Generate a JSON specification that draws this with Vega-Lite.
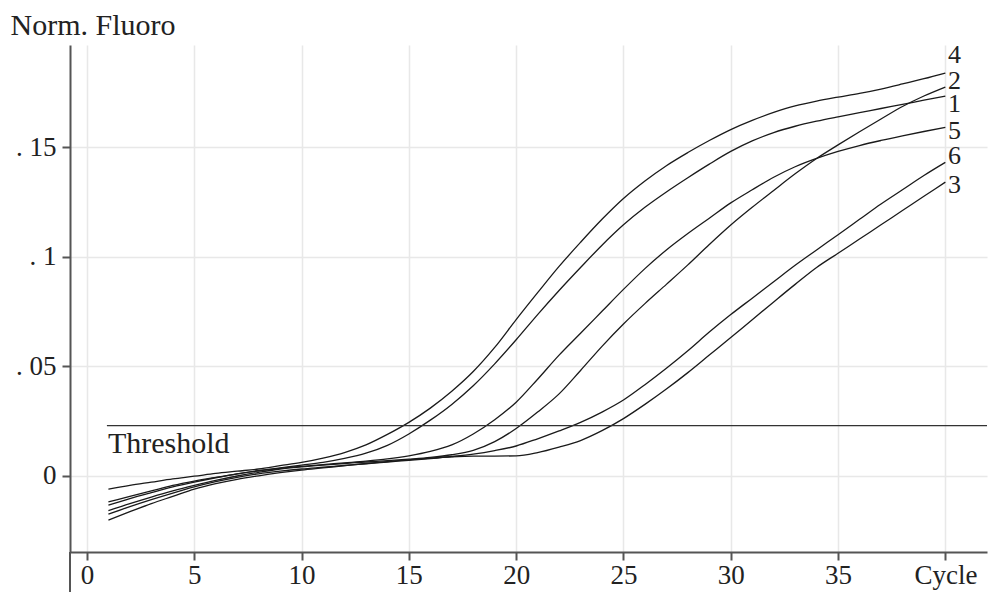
{
  "$schema": "https://vega.github.io/schema/vega-lite/v6.json",
  "width": 917,
  "height": 507,
  "autosize": "none",
  "padding": {"left": 70, "top": 45, "right": 5, "bottom": 40},
  "background": "white",
  "config": {
    "view": {"stroke": null},
    "font": "Liberation Serif",
    "axis": {
      "grid": true,
      "gridColor": "#e8e8e8",
      "gridWidth": 1.5,
      "domainColor": "#555555",
      "domainWidth": 2,
      "tickColor": "#555555",
      "tickWidth": 2,
      "tickSize": 8,
      "labelFont": "Liberation Serif",
      "labelFontSize": 27,
      "labelColor": "#222222",
      "titleFont": "Liberation Serif",
      "titleFontWeight": "normal",
      "titleColor": "#222222"
    }
  },
  "datasets": {
    "curves": [
      {"cycle":1,"curve":"4","value":-0.0062},{"cycle":2,"curve":"4","value":-0.0045},{"cycle":3,"curve":"4","value":-0.003},{"cycle":4,"curve":"4","value":-0.0015},{"cycle":5,"curve":"4","value":-0.0003},{"cycle":6,"curve":"4","value":0.001},{"cycle":7,"curve":"4","value":0.002},{"cycle":8,"curve":"4","value":0.003},{"cycle":9,"curve":"4","value":0.0045},{"cycle":10,"curve":"4","value":0.006},
      {"cycle":11,"curve":"4","value":0.008},{"cycle":12,"curve":"4","value":0.0105},{"cycle":13,"curve":"4","value":0.014},{"cycle":14,"curve":"4","value":0.0188},{"cycle":15,"curve":"4","value":0.0243},{"cycle":16,"curve":"4","value":0.0308},{"cycle":17,"curve":"4","value":0.0385},{"cycle":18,"curve":"4","value":0.0475},{"cycle":19,"curve":"4","value":0.0585},{"cycle":20,"curve":"4","value":0.0712},
      {"cycle":21,"curve":"4","value":0.0835},{"cycle":22,"curve":"4","value":0.0955},{"cycle":23,"curve":"4","value":0.1065},{"cycle":24,"curve":"4","value":0.117},{"cycle":25,"curve":"4","value":0.1265},{"cycle":26,"curve":"4","value":0.1345},{"cycle":27,"curve":"4","value":0.1415},{"cycle":28,"curve":"4","value":0.1475},{"cycle":29,"curve":"4","value":0.153},{"cycle":30,"curve":"4","value":0.158},
      {"cycle":31,"curve":"4","value":0.1622},{"cycle":32,"curve":"4","value":0.1658},{"cycle":33,"curve":"4","value":0.1688},{"cycle":34,"curve":"4","value":0.171},{"cycle":35,"curve":"4","value":0.1728},{"cycle":36,"curve":"4","value":0.1745},{"cycle":37,"curve":"4","value":0.1765},{"cycle":38,"curve":"4","value":0.1788},{"cycle":39,"curve":"4","value":0.1812},{"cycle":40,"curve":"4","value":0.1838},

      {"cycle":1,"curve":"1","value":-0.012},{"cycle":2,"curve":"1","value":-0.0095},{"cycle":3,"curve":"1","value":-0.007},{"cycle":4,"curve":"1","value":-0.0045},{"cycle":5,"curve":"1","value":-0.0025},{"cycle":6,"curve":"1","value":-0.0008},{"cycle":7,"curve":"1","value":0.0008},{"cycle":8,"curve":"1","value":0.0022},{"cycle":9,"curve":"1","value":0.0035},{"cycle":10,"curve":"1","value":0.0048},
      {"cycle":11,"curve":"1","value":0.006},{"cycle":12,"curve":"1","value":0.0078},{"cycle":13,"curve":"1","value":0.0102},{"cycle":14,"curve":"1","value":0.0138},{"cycle":15,"curve":"1","value":0.019},{"cycle":16,"curve":"1","value":0.0253},{"cycle":17,"curve":"1","value":0.0325},{"cycle":18,"curve":"1","value":0.041},{"cycle":19,"curve":"1","value":0.051},{"cycle":20,"curve":"1","value":0.062},
      {"cycle":21,"curve":"1","value":0.0735},{"cycle":22,"curve":"1","value":0.0845},{"cycle":23,"curve":"1","value":0.095},{"cycle":24,"curve":"1","value":0.1052},{"cycle":25,"curve":"1","value":0.1145},{"cycle":26,"curve":"1","value":0.1225},{"cycle":27,"curve":"1","value":0.1295},{"cycle":28,"curve":"1","value":0.136},{"cycle":29,"curve":"1","value":0.1422},{"cycle":30,"curve":"1","value":0.148},
      {"cycle":31,"curve":"1","value":0.1528},{"cycle":32,"curve":"1","value":0.1566},{"cycle":33,"curve":"1","value":0.1595},{"cycle":34,"curve":"1","value":0.1618},{"cycle":35,"curve":"1","value":0.1638},{"cycle":36,"curve":"1","value":0.1657},{"cycle":37,"curve":"1","value":0.1676},{"cycle":38,"curve":"1","value":0.1695},{"cycle":39,"curve":"1","value":0.1714},{"cycle":40,"curve":"1","value":0.1733},

      {"cycle":1,"curve":"5","value":-0.0135},{"cycle":2,"curve":"5","value":-0.0105},{"cycle":3,"curve":"5","value":-0.0078},{"cycle":4,"curve":"5","value":-0.0052},{"cycle":5,"curve":"5","value":-0.003},{"cycle":6,"curve":"5","value":-0.001},{"cycle":7,"curve":"5","value":0.0008},{"cycle":8,"curve":"5","value":0.0022},{"cycle":9,"curve":"5","value":0.0033},{"cycle":10,"curve":"5","value":0.0042},
      {"cycle":11,"curve":"5","value":0.005},{"cycle":12,"curve":"5","value":0.0058},{"cycle":13,"curve":"5","value":0.0066},{"cycle":14,"curve":"5","value":0.0076},{"cycle":15,"curve":"5","value":0.009},{"cycle":16,"curve":"5","value":0.011},{"cycle":17,"curve":"5","value":0.014},{"cycle":18,"curve":"5","value":0.019},{"cycle":19,"curve":"5","value":0.0255},{"cycle":20,"curve":"5","value":0.0335},
      {"cycle":21,"curve":"5","value":0.044},{"cycle":22,"curve":"5","value":0.055},{"cycle":23,"curve":"5","value":0.065},{"cycle":24,"curve":"5","value":0.075},{"cycle":25,"curve":"5","value":0.085},{"cycle":26,"curve":"5","value":0.0945},{"cycle":27,"curve":"5","value":0.103},{"cycle":28,"curve":"5","value":0.1105},{"cycle":29,"curve":"5","value":0.1175},{"cycle":30,"curve":"5","value":0.1245},
      {"cycle":31,"curve":"5","value":0.1305},{"cycle":32,"curve":"5","value":0.1362},{"cycle":33,"curve":"5","value":0.141},{"cycle":34,"curve":"5","value":0.1448},{"cycle":35,"curve":"5","value":0.148},{"cycle":36,"curve":"5","value":0.1507},{"cycle":37,"curve":"5","value":0.153},{"cycle":38,"curve":"5","value":0.1551},{"cycle":39,"curve":"5","value":0.1571},{"cycle":40,"curve":"5","value":0.159},

      {"cycle":1,"curve":"2","value":-0.016},{"cycle":2,"curve":"2","value":-0.0128},{"cycle":3,"curve":"2","value":-0.0098},{"cycle":4,"curve":"2","value":-0.007},{"cycle":5,"curve":"2","value":-0.0045},{"cycle":6,"curve":"2","value":-0.0022},{"cycle":7,"curve":"2","value":-0.0002},{"cycle":8,"curve":"2","value":0.0015},{"cycle":9,"curve":"2","value":0.003},{"cycle":10,"curve":"2","value":0.004},
      {"cycle":11,"curve":"2","value":0.0048},{"cycle":12,"curve":"2","value":0.0055},{"cycle":13,"curve":"2","value":0.0062},{"cycle":14,"curve":"2","value":0.0068},{"cycle":15,"curve":"2","value":0.0075},{"cycle":16,"curve":"2","value":0.0083},{"cycle":17,"curve":"2","value":0.0095},{"cycle":18,"curve":"2","value":0.0115},{"cycle":19,"curve":"2","value":0.0155},{"cycle":20,"curve":"2","value":0.0215},
      {"cycle":21,"curve":"2","value":0.029},{"cycle":22,"curve":"2","value":0.0373},{"cycle":23,"curve":"2","value":0.048},{"cycle":24,"curve":"2","value":0.059},{"cycle":25,"curve":"2","value":0.0692},{"cycle":26,"curve":"2","value":0.0785},{"cycle":27,"curve":"2","value":0.0873},{"cycle":28,"curve":"2","value":0.0962},{"cycle":29,"curve":"2","value":0.1055},{"cycle":30,"curve":"2","value":0.1144},
      {"cycle":31,"curve":"2","value":0.1225},{"cycle":32,"curve":"2","value":0.1302},{"cycle":33,"curve":"2","value":0.1378},{"cycle":34,"curve":"2","value":0.1448},{"cycle":35,"curve":"2","value":0.151},{"cycle":36,"curve":"2","value":0.157},{"cycle":37,"curve":"2","value":0.1628},{"cycle":38,"curve":"2","value":0.1685},{"cycle":39,"curve":"2","value":0.1733},{"cycle":40,"curve":"2","value":0.1774},

      {"cycle":1,"curve":"6","value":-0.0176},{"cycle":2,"curve":"6","value":-0.0142},{"cycle":3,"curve":"6","value":-0.011},{"cycle":4,"curve":"6","value":-0.008},{"cycle":5,"curve":"6","value":-0.0052},{"cycle":6,"curve":"6","value":-0.0028},{"cycle":7,"curve":"6","value":-0.0008},{"cycle":8,"curve":"6","value":0.0008},{"cycle":9,"curve":"6","value":0.002},{"cycle":10,"curve":"6","value":0.003},
      {"cycle":11,"curve":"6","value":0.0038},{"cycle":12,"curve":"6","value":0.0046},{"cycle":13,"curve":"6","value":0.0054},{"cycle":14,"curve":"6","value":0.0062},{"cycle":15,"curve":"6","value":0.007},{"cycle":16,"curve":"6","value":0.0078},{"cycle":17,"curve":"6","value":0.0087},{"cycle":18,"curve":"6","value":0.0098},{"cycle":19,"curve":"6","value":0.0114},{"cycle":20,"curve":"6","value":0.0135},
      {"cycle":21,"curve":"6","value":0.0168},{"cycle":22,"curve":"6","value":0.0204},{"cycle":23,"curve":"6","value":0.0243},{"cycle":24,"curve":"6","value":0.029},{"cycle":25,"curve":"6","value":0.0345},{"cycle":26,"curve":"6","value":0.0415},{"cycle":27,"curve":"6","value":0.049},{"cycle":28,"curve":"6","value":0.057},{"cycle":29,"curve":"6","value":0.0655},{"cycle":30,"curve":"6","value":0.0735},
      {"cycle":31,"curve":"6","value":0.081},{"cycle":32,"curve":"6","value":0.0885},{"cycle":33,"curve":"6","value":0.096},{"cycle":34,"curve":"6","value":0.103},{"cycle":35,"curve":"6","value":0.11},{"cycle":36,"curve":"6","value":0.117},{"cycle":37,"curve":"6","value":0.124},{"cycle":38,"curve":"6","value":0.1305},{"cycle":39,"curve":"6","value":0.137},{"cycle":40,"curve":"6","value":0.143},

      {"cycle":1,"curve":"3","value":-0.0203},{"cycle":2,"curve":"3","value":-0.0165},{"cycle":3,"curve":"3","value":-0.0128},{"cycle":4,"curve":"3","value":-0.0095},{"cycle":5,"curve":"3","value":-0.0062},{"cycle":6,"curve":"3","value":-0.0037},{"cycle":7,"curve":"3","value":-0.0017},{"cycle":8,"curve":"3","value":-0.0001},{"cycle":9,"curve":"3","value":0.0013},{"cycle":10,"curve":"3","value":0.0025},
      {"cycle":11,"curve":"3","value":0.0035},{"cycle":12,"curve":"3","value":0.0045},{"cycle":13,"curve":"3","value":0.0055},{"cycle":14,"curve":"3","value":0.0064},{"cycle":15,"curve":"3","value":0.0072},{"cycle":16,"curve":"3","value":0.008},{"cycle":17,"curve":"3","value":0.0086},{"cycle":18,"curve":"3","value":0.0089},{"cycle":19,"curve":"3","value":0.0089},{"cycle":20,"curve":"3","value":0.009},
      {"cycle":21,"curve":"3","value":0.0105},{"cycle":22,"curve":"3","value":0.013},{"cycle":23,"curve":"3","value":0.016},{"cycle":24,"curve":"3","value":0.0205},{"cycle":25,"curve":"3","value":0.026},{"cycle":26,"curve":"3","value":0.0325},{"cycle":27,"curve":"3","value":0.0395},{"cycle":28,"curve":"3","value":0.047},{"cycle":29,"curve":"3","value":0.055},{"cycle":30,"curve":"3","value":0.063},
      {"cycle":31,"curve":"3","value":0.0712},{"cycle":32,"curve":"3","value":0.0793},{"cycle":33,"curve":"3","value":0.0873},{"cycle":34,"curve":"3","value":0.095},{"cycle":35,"curve":"3","value":0.1015},{"cycle":36,"curve":"3","value":0.108},{"cycle":37,"curve":"3","value":0.1145},{"cycle":38,"curve":"3","value":0.121},{"cycle":39,"curve":"3","value":0.1275},{"cycle":40,"curve":"3","value":0.134}
    ],
    "labels": [
      {"curve":"4","labelValue":0.192},
      {"curve":"2","labelValue":0.1801},
      {"curve":"1","labelValue":0.1696},
      {"curve":"5","labelValue":0.1573},
      {"curve":"6","labelValue":0.1459},
      {"curve":"3","labelValue":0.1326}
    ],
    "threshold": [
      {"label":"Threshold","value":0.0228,"start":0.93,"end":41.94}
    ]
  },
  "layer": [
    {
      "data": {"name": "curves"},
      "mark": {"type": "line", "color": "#1a1a1a", "strokeWidth": 1.3, "interpolate": "monotone"},
      "encoding": {
        "x": {
          "field": "cycle", "type": "quantitative",
          "scale": {"domain": [-0.79, 41.94], "nice": false, "zero": false},
          "axis": {"values": [0,5,10,15,20,25,30,35,40], "labelExpr": "datum.value==40?'Cycle':datum.label", "title": null, "labelPadding": 2}
        },
        "y": {
          "field": "value", "type": "quantitative",
          "scale": {"domain": [-0.0349, 0.1966], "nice": false, "zero": false},
          "axis": {
            "values": [0, 0.05, 0.1, 0.15],
            "labelExpr": "datum.value===0?'0':'. '+slice(format(datum.value,'~g'),2)",
            "labelPadding": 6,
            "title": "Norm. Fluoro",
            "titleAngle": 0,
            "titleAlign": "left",
            "titleBaseline": "alphabetic",
            "titleX": -60,
            "titleY": -11,
            "titleFontSize": 30
          }
        },
        "detail": {"field": "curve"}
      }
    },
    {
      "data": {"name": "threshold"},
      "mark": {"type": "rule", "color": "#333333", "strokeWidth": 1.4},
      "encoding": {
        "x": {"field": "start", "type": "quantitative"},
        "x2": {"field": "end"},
        "y": {"field": "value", "type": "quantitative"}
      }
    },
    {
      "data": {"name": "threshold"},
      "mark": {"type": "text", "font": "Liberation Serif", "fontSize": 30, "align": "left", "baseline": "alphabetic", "dy": 27, "dx": 1, "color": "#222222"},
      "encoding": {
        "x": {"field": "start", "type": "quantitative"},
        "y": {"field": "value", "type": "quantitative"},
        "text": {"field": "label"}
      }
    },
    {
      "data": {"name": "labels"},
      "mark": {"type": "text", "font": "Liberation Serif", "fontSize": 26, "align": "left", "baseline": "middle", "color": "#222222"},
      "encoding": {
        "x": {"datum": 40.12, "type": "quantitative"},
        "y": {"field": "labelValue", "type": "quantitative"},
        "text": {"field": "curve"}
      }
    },
    {
      "data": {"values": [{"x": -0.79, "y": -0.0349, "y2": -0.056}]},
      "mark": {"type": "rule", "color": "#555555", "strokeWidth": 2},
      "encoding": {
        "x": {"field": "x", "type": "quantitative"},
        "y": {"field": "y", "type": "quantitative"},
        "y2": {"field": "y2"}
      }
    }
  ]
}
